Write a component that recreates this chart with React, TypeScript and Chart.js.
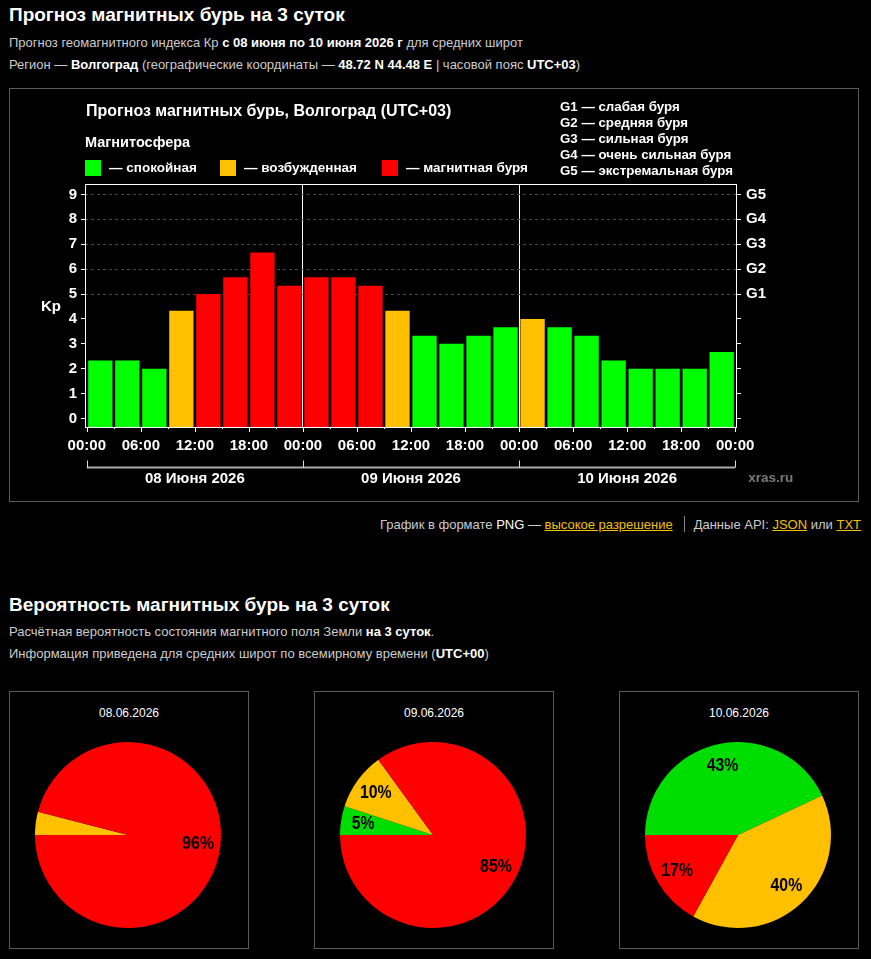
import React, { useEffect, useRef } from 'react';
import { Chart, registerables } from 'chart.js';

Chart.register(...registerables);

// ---- Kp forecast, 3-hour intervals (hours from 08.06 00:00 local time) ----
const SLOT_START_HOURS = [0, 3, 6, 9, 12, 15, 18, 21, 24, 27, 30, 33, 36, 39, 42, 45, 48, 51, 54, 57, 60, 63, 66, 69];
const KP_VALUES = [
  2.33, 2.33, 2.0, 4.33, 5.0, 5.67, 6.67, 5.33,
  5.67, 5.67, 5.33, 4.33, 3.33, 3.0, 3.33, 3.67,
  4.0, 3.67, 3.33, 2.33, 2.0, 2.0, 2.0, 2.67,
];
const DAY_LABELS = ['08 Июня 2026', '09 Июня 2026', '10 Июня 2026'];
const HOUR_LABELS = ['00:00', '06:00', '12:00', '18:00'];
const KP_TICKS = [0, 1, 2, 3, 4, 5, 6, 7, 8, 9];
const G_LABELS = ['G1', 'G2', 'G3', 'G4', 'G5'];
const G_DESCRIPTIONS = [
  'G1 — слабая буря',
  'G2 — средняя буря',
  'G3 — сильная буря',
  'G4 — очень сильная буря',
  'G5 — экстремальная буря',
];
const STATE_LABELS = ['— спокойная', '— возбужденная', '— магнитная буря'];

// ---- storm probability by day (UTC) ----
const PIE_DATES = ['08.06.2026', '09.06.2026', '10.06.2026'];
const PIE_QUIET = [0, 5, 43];
const PIE_ACTIVE = [4, 10, 40];
const PIE_STORM = [96, 85, 17];

const GREEN = '#00ff00';
const YELLOW = '#ffc000';
const RED = '#ff0000';
const PIE_GREEN = '#00dd00';

const Y_MIN = -0.34;
const Y_MAX = 9.42;

const FONT = "'Liberation Sans', Arial, Helvetica, sans-serif";

function kpColor(v: number) {
  if (v >= 5) return RED;
  if (v >= 4) return YELLOW;
  return GREEN;
}

const kpDecor = {
  id: 'kpDecor',
  afterDraw(chart: any) {
    const { ctx, chartArea: a, scales } = chart;
    const x = scales.x;
    ctx.save();

    // frame around the plot
    ctx.strokeStyle = '#ffffff';
    ctx.lineWidth = 1;
    ctx.strokeRect(a.left + 0.5, a.top + 0.5, a.right - a.left - 1, a.bottom - a.top);

    // x tick marks: long every 6 h, short every 3 h
    for (const t of x.ticks) {
      const px = Math.round(x.getPixelForValue(t.value)) + 0.5;
      const len = t.value % 6 === 0 ? 5 : 2;
      ctx.beginPath();
      ctx.moveTo(px, a.bottom);
      ctx.lineTo(px, a.bottom + len);
      ctx.stroke();
    }

    // day brackets
    const by = a.bottom + 40.5;
    ctx.strokeStyle = '#aaaaaa';
    ctx.lineWidth = 2;
    ctx.beginPath();
    ctx.moveTo(x.getPixelForValue(0), by);
    ctx.lineTo(x.getPixelForValue(72), by);
    ctx.stroke();
    ctx.strokeStyle = '#dddddd';
    ctx.lineWidth = 1;
    [0, 24, 48, 72].forEach((h) => {
      const px = Math.round(x.getPixelForValue(h)) + 0.5;
      ctx.beginPath();
      ctx.moveTo(px, by - 7);
      ctx.lineTo(px, by);
      ctx.stroke();
    });
    ctx.fillStyle = '#ffffff';
    ctx.font = `bold 15px ${FONT}`;
    ctx.textAlign = 'center';
    ctx.textBaseline = 'middle';
    DAY_LABELS.forEach((d, i) => {
      ctx.fillText(d, x.getPixelForValue(i * 24 + 12), by + 11);
    });
    ctx.fillStyle = '#7a7a7a';
    ctx.textAlign = 'left';
    ctx.font = `bold 13.5px ${FONT}`;
    ctx.fillText('xras.ru', x.getPixelForValue(72) + 13, by + 11);

    // title and legends
    ctx.fillStyle = '#ffffff';
    ctx.font = `bold 16px ${FONT}`;
    ctx.fillText('Прогноз магнитных бурь, Волгоград (UTC+03)', 76, 23);
    ctx.font = `bold 14.5px ${FONT}`;
    ctx.fillText('Магнитосфера', 75, 54);
    ctx.font = `bold 13.5px ${FONT}`;
    const legend = [
      { c: GREEN, sx: 75, tx: 99 },
      { c: YELLOW, sx: 210, tx: 234 },
      { c: RED, sx: 372, tx: 396 },
    ];
    legend.forEach((l, i) => {
      ctx.fillStyle = l.c;
      ctx.fillRect(l.sx, 71, 16, 16);
      ctx.fillStyle = '#ffffff';
      ctx.fillText(STATE_LABELS[i], l.tx, 79);
    });
    ctx.font = `bold 13.3px ${FONT}`;
    G_DESCRIPTIONS.forEach((g, i) => {
      ctx.fillText(g, 550, 18 + i * 16);
    });
    ctx.font = `bold 15px ${FONT}`;
    ctx.fillText('Kp', 31, 218);
    ctx.restore();
  },
};

function KpChart() {
  const ref = useRef<HTMLCanvasElement | null>(null);
  useEffect(() => {
    const canvas = ref.current;
    if (!canvas) return;
    const tickFont = { family: FONT, size: 15, weight: 'bold' as const };
    const chart = new Chart(canvas, {
      type: 'bar',
      data: {
        datasets: [
          {
            data: SLOT_START_HOURS.map((h, i) => ({ x: h + 1.5, y: KP_VALUES[i] })),
            backgroundColor: KP_VALUES.map(kpColor),
            borderWidth: 0,
            base: Y_MIN,
            categoryPercentage: 1,
            barPercentage: 0.9,
          } as any,
        ],
      },
      options: {
        animation: false,
        responsive: false,
        maintainAspectRatio: false,
        events: [],
        layout: { padding: { top: 95, left: 0, right: 0, bottom: 0 } },
        plugins: { legend: { display: false }, tooltip: { enabled: false } },
        scales: {
          x: {
            type: 'linear',
            min: -0.2,
            max: 72.2,
            offset: false,
            grid: {
              offset: false,
              drawTicks: false,
              color: (c: any) => (c.tick && (c.tick.value === 24 || c.tick.value === 48) ? '#ffffff' : 'rgba(0,0,0,0)'),
              lineWidth: 1,
            },
            border: { display: false },
            ticks: {
              stepSize: 3,
              includeBounds: false,
              autoSkip: false,
              maxRotation: 0,
              padding: 10,
              color: '#ffffff',
              font: tickFont,
              callback: (v: any) => (v % 6 === 0 ? HOUR_LABELS[(v % 24) / 6] : ''),
            },
            afterFit: (s: any) => {
              s.height = 73;
            },
          },
          y: {
            type: 'linear',
            position: 'left',
            min: Y_MIN,
            max: Y_MAX,
            afterBuildTicks: (s: any) => {
              s.ticks = KP_TICKS.map((v) => ({ value: v }));
            },
            grid: {
              color: (c: any) => (c.tick && c.tick.value >= 5 ? '#4a4a4a' : 'rgba(0,0,0,0)'),
              tickColor: '#ffffff',
              tickLength: 4,
              lineWidth: 1,
            },
            border: { display: false, dash: [3, 3] },
            ticks: { padding: 4, color: '#ffffff', font: tickFont, autoSkip: false },
            afterFit: (s: any) => {
              s.width = 75;
            },
          },
          y2: {
            type: 'linear',
            position: 'right',
            min: Y_MIN,
            max: Y_MAX,
            afterBuildTicks: (s: any) => {
              s.ticks = KP_TICKS.map((v) => ({ value: v }));
            },
            grid: { drawOnChartArea: false, tickColor: '#ffffff', tickLength: 4 },
            border: { display: false },
            ticks: {
              padding: 5,
              color: '#ffffff',
              font: tickFont,
              autoSkip: false,
              callback: (v: any) => (v >= 5 ? G_LABELS[v - 5] : ''),
            },
            afterFit: (s: any) => {
              s.width = 120;
            },
          },
        },
      } as any,
      plugins: [kpDecor],
    });
    return () => chart.destroy();
  }, []);
  return <canvas ref={ref} width={847} height={411} style={{ position: 'absolute', left: 10, top: 89, width: 847, height: 411 }} />;
}

// percentage labels inside the slices, in a condensed bold face
const pieLabels = {
  id: 'pieLabels',
  afterDatasetsDraw(chart: any) {
    const { ctx } = chart;
    const meta = chart.getDatasetMeta(0);
    const values = chart.data.datasets[0].data as number[];
    meta.data.forEach((arc: any, i: number) => {
      const v = values[i];
      if (v < 5) return;
      const mid = (arc.startAngle + arc.endAngle) / 2;
      const r = arc.outerRadius * 0.76;
      const cx = arc.x + Math.cos(mid) * r;
      const cy = arc.y + Math.sin(mid) * r;
      ctx.save();
      ctx.translate(cx, cy);
      ctx.scale(0.88, 1);
      ctx.fillStyle = '#000000';
      ctx.font = `bold 18px ${FONT}`;
      ctx.textAlign = 'center';
      ctx.textBaseline = 'middle';
      ctx.fillText(`${v}%`, 0, 0);
      ctx.restore();
    });
  },
};

function DayPie({ index, left }: { index: number; left: number }) {
  const ref = useRef<HTMLCanvasElement | null>(null);
  useEffect(() => {
    const canvas = ref.current;
    if (!canvas) return;
    const chart = new Chart(canvas, {
      type: 'pie',
      data: {
        labels: ['спокойная', 'возбужденная', 'магнитная буря'],
        datasets: [
          {
            data: [PIE_QUIET[index], PIE_ACTIVE[index], PIE_STORM[index]],
            backgroundColor: [PIE_GREEN, YELLOW, RED],
            borderWidth: 0,
          },
        ],
      },
      options: {
        animation: false,
        responsive: false,
        maintainAspectRatio: false,
        events: [],
        rotation: -90,
        layout: { padding: { left: 25, right: 27, top: 50, bottom: 20 } },
        plugins: { legend: { display: false }, tooltip: { enabled: false } },
      } as any,
      plugins: [pieLabels],
    });
    return () => chart.destroy();
  }, [index]);
  return (
    <div
      style={{
        position: 'absolute',
        left,
        top: 691,
        width: 240,
        height: 258,
        boxSizing: 'border-box',
        border: '1px solid #5a5a5a',
      }}
    >
      <div
        style={{
          position: 'absolute',
          left: 0,
          right: 0,
          top: 14,
          height: 16,
          lineHeight: '16px',
          textAlign: 'center',
          color: '#ffffff',
          font: `12px ${FONT}`,
        }}
      >
        {PIE_DATES[index]}
      </div>
      <canvas ref={ref} width={238} height={256} style={{ position: 'absolute', left: 0, top: 0, width: 238, height: 256 }} />
    </div>
  );
}

const textLine = (top: number, size: number): React.CSSProperties => ({
  position: 'absolute',
  left: 9,
  top,
  height: 20,
  lineHeight: '20px',
  whiteSpace: 'nowrap',
  color: '#cccccc',
  font: `${size}px ${FONT}`,
});

const B = ({ children }: { children: React.ReactNode }) => (
  <b style={{ color: '#ffffff' }}>{children}</b>
);

const linkStyle: React.CSSProperties = { color: '#f2c200', textDecoration: 'underline' };

export default function App() {
  useEffect(() => {
    document.body.style.background = '#000000';
  }, []);
  return (
    <div
      style={{
        position: 'absolute',
        left: 0,
        top: 0,
        width: 871,
        height: 959,
        background: '#000000',
        overflow: 'hidden',
        fontFamily: FONT,
      }}
    >
      <div style={{ ...textLine(4, 19), color: '#ffffff', fontWeight: 'bold' }}>Прогноз магнитных бурь на 3 суток</div>
      <div style={textLine(35, 13)}>
        Прогноз геомагнитного индекса Кр <B>с 08 июня по 10 июня 2026 г</B> для средних широт
      </div>
      <div style={textLine(57, 13)}>
        Регион — <B>Волгоград</B> (географические координаты — <B>48.72 N 44.48 E</B> | часовой пояс <B>UTC+03</B>)
      </div>

      <div
        style={{
          position: 'absolute',
          left: 9,
          top: 88,
          width: 850,
          height: 414,
          boxSizing: 'border-box',
          border: '1px solid #5a5a5a',
        }}
      />
      <KpChart />

      <div
        style={{
          position: 'absolute',
          right: 10,
          top: 514,
          height: 20,
          lineHeight: '20px',
          whiteSpace: 'nowrap',
          color: '#cccccc',
          font: `13px ${FONT}`,
          display: 'flex',
          alignItems: 'center',
        }}
      >
        <span>
          График в формате <span style={{ color: '#ffffff' }}>PNG</span> — <span style={linkStyle}>высокое разрешение</span>
        </span>
        <span style={{ display: 'inline-block', width: 1, height: 16, background: '#888888', margin: '0 9px 0 11px' }} />
        <span>
          Данные API: <span style={linkStyle}>JSON</span> или <span style={linkStyle}>TXT</span>
        </span>
      </div>

      <div style={{ ...textLine(594, 19), color: '#ffffff', fontWeight: 'bold' }}>Вероятность магнитных бурь на 3 суток</div>
      <div style={textLine(624, 13)}>
        Расчётная вероятность состояния магнитного поля Земли <B>на 3 суток</B>.
      </div>
      <div style={textLine(646, 13)}>
        Информация приведена для средних широт по всемирному времени (<B>UTC+00</B>)
      </div>

      <DayPie index={0} left={9} />
      <DayPie index={1} left={314} />
      <DayPie index={2} left={619} />
    </div>
  );
}
